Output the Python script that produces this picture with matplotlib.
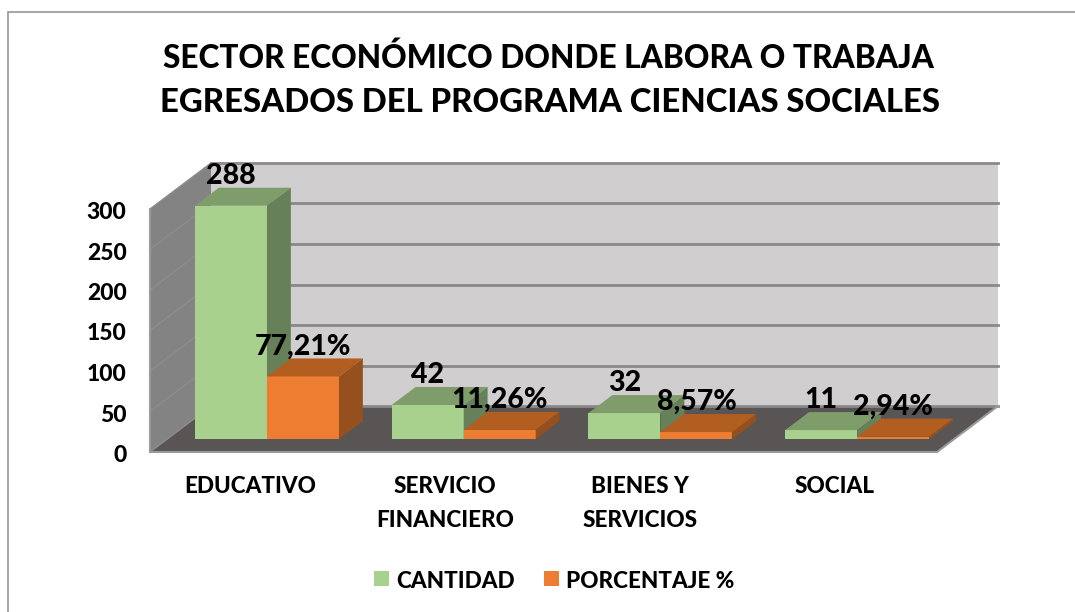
import matplotlib
matplotlib.use("Agg")
import matplotlib.pyplot as plt
from matplotlib.patches import Rectangle

categories = ["EDUCATIVO", "SERVICIO\nFINANCIERO", "BIENES Y\nSERVICIOS", "SOCIAL"]
cantidad = [288, 42, 32, 11]
porcentaje = [77.21, 11.26, 8.57, 2.94]
cantidad_labels = ["288", "42", "32", "11"]
porcentaje_labels = ["77,21%", "11,26%", "8,57%", "2,94%"]
yticks = [0, 50, 100, 150, 200, 250, 300]
title_lines = ["SECTOR ECONÓMICO DONDE LABORA O TRABAJA", "EGRESADOS DEL PROGRAMA CIENCIAS SOCIALES"]
series_names = ["CANTIDAD", "PORCENTAJE %"]

plt.rcParams["font.family"] = ["Lato", "DejaVu Sans"]
plt.rcParams["font.weight"] = "black"

W, H = 1075, 612
fig = plt.figure(figsize=(W / 100, H / 100), dpi=100, facecolor="white")
ax = fig.add_axes([150 / W, (H - 452) / H, (937 - 150) / W, (452 - 209) / H])
ax.set_xlim(0, 4)
ax.set_ylim(0, 300)
ax.axis("off")

# oblique depth: a depth of 1 is the full floor depth
DX = 61 / 196.75
DY = 46 / 0.81


def obl(x, y, d):
    return x + DX * d, y + DY * d


def quad(pts, color, z, **kw):
    xs = [p[0] for p in pts]
    ys = [p[1] for p in pts]
    ax.fill(xs, ys, color=color, zorder=z, lw=0, clip_on=False, **kw)


WALL, BACK, FLOOR, GRID = "#848383", "#D0CECE", "#595554", "#8A8888"
quad([obl(0, 0, 1), obl(4, 0, 1), obl(4, 300, 1), obl(0, 300, 1)], BACK, 1)
quad([obl(0, 0, 0), obl(0, 300, 0), obl(0, 300, 1), obl(0, 0, 1)], WALL, 1)
quad([obl(0, 0, 0), obl(4, 0, 0), obl(4, 0, 1), obl(0, 0, 1)], FLOOR, 1)
for t in yticks:
    x0, y0 = obl(0, t, 0)
    x1, y1 = obl(0, t, 1)
    x2, y2 = obl(4, t, 1)
    ax.plot([x1, x2], [y1, y2], color=GRID, lw=2, zorder=2, clip_on=False)
    ax.plot([x0, x1], [y0, y1], color="#8E8D8D", lw=1, zorder=2, clip_on=False)
fx0, fy0 = obl(0, 0, 0)
fx1, fy1 = obl(4, 0, 0)
fx2, fy2 = obl(4, 0, 1)
ax.plot([fx0, fx1, fx2], [fy0, fy1, fy2], color="#9A9A9A", lw=1.5, zorder=2, clip_on=False)
ax.plot([fx0, fx0], [0, 300], color="#9A9A9A", lw=1.5, zorder=2, clip_on=False)

BAR_W = 72 / 196.75
D0, D1 = 13 / 46, 31 / 46
START = 0.141
_, BASE = obl(0, 0, D0)


def bars(values, offset, front, top, side, z):
    for i, v in enumerate(values):
        left = i + START + offset
        fx, _ = obl(left, 0, D0)
        ax.bar(fx, v, width=BAR_W, bottom=BASE, align="edge", color=front, zorder=z, lw=0, clip_on=False)
        a, b = left, left + BAR_W
        quad([obl(a, v, D0), obl(b, v, D0), obl(b, v, D1), obl(a, v, D1)], top, z)
        quad([obl(b, 0, D0), obl(b, v, D0), obl(b, v, D1), obl(b, 0, D1)], side, z)


bars(cantidad, 0, "#A9D18E", "#7F9D6B", "#66805A", 3)
bars(porcentaje, BAR_W, "#ED7D31", "#B25E20", "#95501D", 4)

for i in range(4):
    gx = obl(i + START + BAR_W / 2, 0, D0)[0]
    ox = obl(i + START + BAR_W * 1.5, 0, D0)[0]
    for x, v, s in ((gx, cantidad[i], cantidad_labels[i]), (ox, porcentaje[i], porcentaje_labels[i])):
        ax.annotate(s, (x, BASE + v), xytext=(0, 30 * 0.72), textcoords="offset points",
                    ha="center", va="center", fontsize=20.5, color="black", zorder=6, annotation_clip=False)

for t in yticks:
    ax.annotate(str(t), (0, t), xytext=(-23.5 * 0.72, -3.5 * 0.72), textcoords="offset points",
                ha="right", va="center", fontsize=16.5, color="black", annotation_clip=False)

for i, c in enumerate(categories):
    fig.text((250 + i * 195) / W, 1 - 476 / H, c, ha="center", va="top",
             fontsize=16.2, linespacing=1.75, color="black")

fig.text(548 / W, 1 - 58 / H, title_lines[0], ha="center", va="center", fontsize=22.8, color="black")
fig.text(550 / W, 1 - 102 / H, title_lines[1], ha="center", va="center", fontsize=23.7, color="black")

for x, name, col in ((374, series_names[0], "#A9D18E"), (544, series_names[1], "#ED7D31")):
    fig.add_artist(Rectangle((x / W, 1 - 586 / H), 15 / W, 15 / H, transform=fig.transFigure, color=col, lw=0))
    fig.text((x + 22) / W, 1 - 581 / H, name, ha="left", va="center", fontsize=16.2, color="black")

fig.add_artist(Rectangle((7.5 / W, -2 / H), 1200 / W, (612 - 12 + 2) / H, transform=fig.transFigure, fill=False,
                         edgecolor="#969696", lw=1.2))

fig.savefig("out.png", dpi=100)
